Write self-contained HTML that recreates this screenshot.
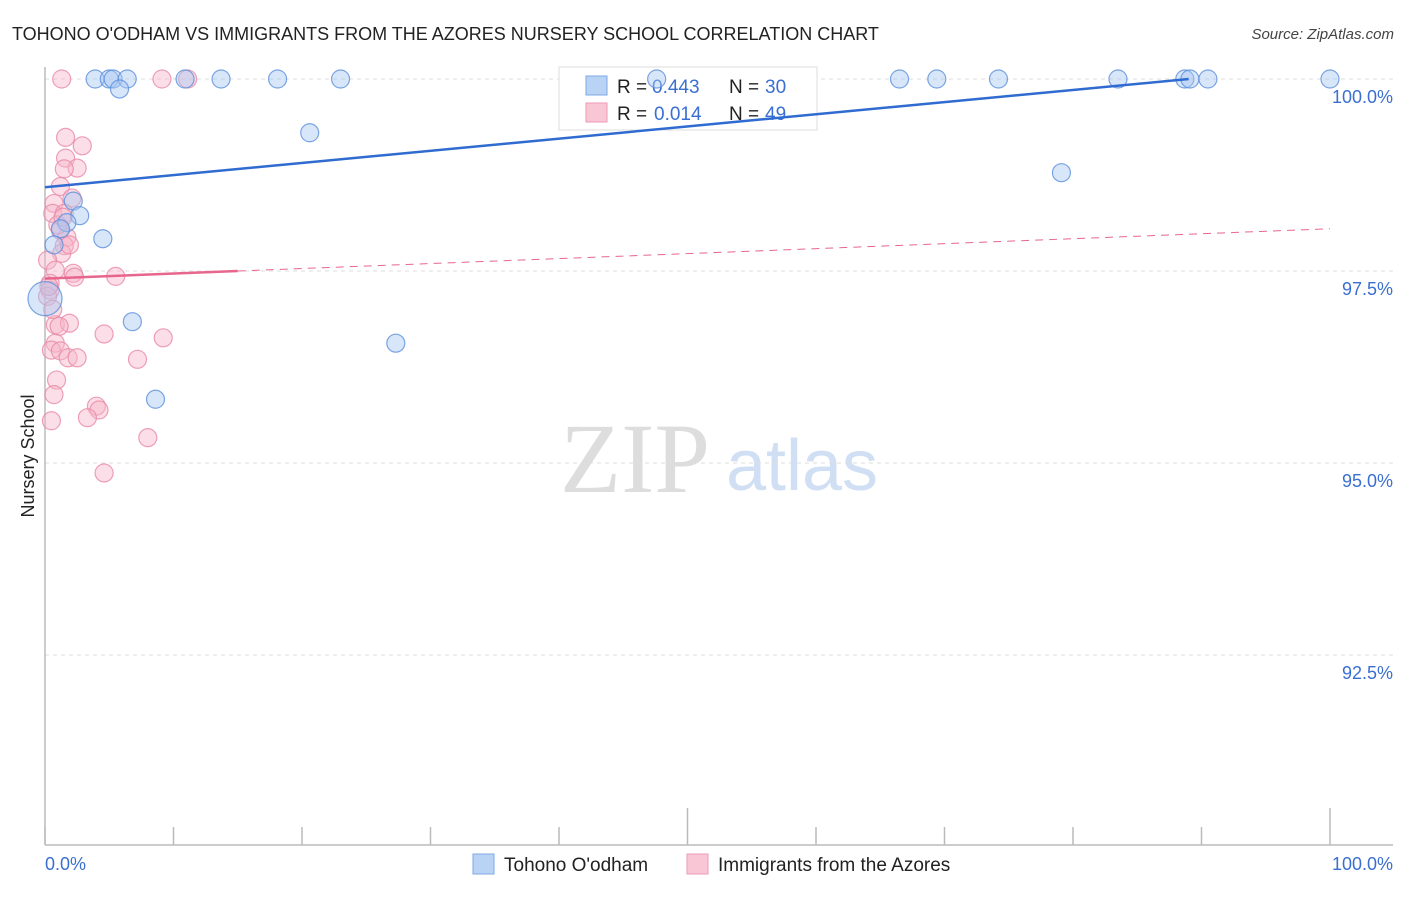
<!DOCTYPE html>
<html><head><meta charset="utf-8"><style>
body{margin:0;background:#fff;font-family:"Liberation Sans",sans-serif;}
svg text{font-family:"Liberation Sans",sans-serif;}
svg text.serif{font-family:"Liberation Serif",serif;}
</style></head><body>
<svg id="chart" width="1406" height="892" viewBox="0 0 1406 892" xmlns="http://www.w3.org/2000/svg">
<text x="12" y="40" font-size="18" fill="#222">TOHONO O'ODHAM VS IMMIGRANTS FROM THE AZORES NURSERY SCHOOL CORRELATION CHART</text>
<text x="1394" y="39" font-size="15" fill="#444" font-style="italic" text-anchor="end">Source: ZipAtlas.com</text>
<text x="34" y="456" font-size="18" fill="#222" text-anchor="middle" transform="rotate(-90 34 456)">Nursery School</text>
<g>
<text class="serif" x="635" y="492" font-size="100" fill="#ddd" text-anchor="middle">ZIP</text>
<text x="802" y="490" font-size="72" fill="#d0dff3" text-anchor="middle">atlas</text>
</g>
<g id="grid"></g>
<g id="axes"></g>
<g>
<rect x="559" y="67" width="258" height="63" fill="#fff" stroke="#ddd"/>
<rect x="586" y="76" width="21" height="19" fill="#b9d3f5" stroke="#7fa9e6"/>
<rect x="586" y="103" width="21" height="19" fill="#f9c6d5" stroke="#ee9ab4"/>
<text x="617" y="93" font-size="19" fill="#222">R =</text>
<text x="652" y="93" font-size="19" fill="#3a6fd1">0.443</text>
<text x="729" y="93" font-size="19" fill="#222">N =</text>
<text x="765" y="93" font-size="19" fill="#3a6fd1">30</text>
<text x="617" y="120" font-size="19" fill="#222">R =</text>
<text x="654" y="120" font-size="19" fill="#3a6fd1">0.014</text>
<text x="729" y="120" font-size="19" fill="#222">N =</text>
<text x="765" y="120" font-size="19" fill="#3a6fd1">49</text>
</g>
<g id="marks"></g>
<g>
<rect x="473" y="854" width="21" height="20" fill="#b9d3f5" stroke="#7fa9e6"/>
<text x="504" y="871" font-size="19" fill="#222">Tohono O'odham</text>
<rect x="687" y="854" width="21" height="20" fill="#f9c6d5" stroke="#ee9ab4"/>
<text x="718" y="871" font-size="19" fill="#222">Immigrants from the Azores</text>
</g>
</svg>
<script>
const yTicks=[100,97.5,95,92.5];
const yTickLabels=["100.0%","97.5%","95.0%","92.5%"];
const blueX=[3.9,5.0,5.3,6.4,5.8,10.9,13.7,18.1,23.0,20.6,2.2,2.7,1.7,1.2,0.7,4.5,0,6.8,27.3,8.6,47.6,66.5,69.4,74.2,83.5,88.7,89.1,90.5,100,79.1];
const blueY=[100,100,100,100,99.87,100,100,100,100,99.30,98.41,98.22,98.13,98.05,97.84,97.92,97.14,96.84,96.56,95.83,100,100,100,100,100,100,100,100,100,98.78];
const pinkX=[1.3,9.1,11.1,1.6,2.9,1.6,2.5,1.5,1.2,2.1,0.7,0.6,1.5,1.2,1.7,1.5,1.3,0.2,0.8,2.2,2.3,5.5,0.4,0.4,0.2,0.8,1.9,1.1,4.6,9.2,0.8,0.5,1.2,1.8,2.5,7.2,0.9,0.7,4.0,4.2,3.3,0.5,8.0,4.6,1.0,1.9,0.3,1.4,0.6];
const pinkY=[100,100,100,99.24,99.13,98.97,98.84,98.83,98.6,98.45,98.38,98.25,98.25,98.03,97.94,97.83,97.73,97.64,97.51,97.47,97.42,97.43,97.34,97.25,97.17,96.8,96.82,96.78,96.68,96.63,96.56,96.47,96.46,96.37,96.37,96.35,96.08,95.89,95.74,95.69,95.59,95.55,95.33,94.87,98.1,97.84,97.3,98.2,97.0];
const blueTrend=[[0,98.59],[89,100]];
const pinkTrend=[[0,97.40],[15,97.50],[100,98.05]];
const xs=v=>45+v*12.85, ys=v=>79+(100-v)*76.8;
const NS="http://www.w3.org/2000/svg";
function mk(p,t,a){const e=document.createElementNS(NS,t);for(const k in a)e.setAttribute(k,a[k]);p.appendChild(e);return e;}
const grid=document.getElementById('grid'),axes=document.getElementById('axes'),marks=document.getElementById('marks');
yTicks.forEach((t,i)=>{
 const l=mk(grid,'line',{x1:45,x2:1393,y1:ys(t),y2:ys(t),stroke:'#ddd','stroke-dasharray':'4 4'});
 
 
 const tx=mk(axes,'text',{x:1393,y:ys(t)+24,'font-size':18,fill:'#3a6fd1','text-anchor':'end'});
 tx.textContent=yTickLabels[i];
 
 
});
let a=mk(axes,'line',{x1:45,x2:1393,y1:845,y2:845,stroke:'#bbb','stroke-width':1.5});

a=mk(axes,'line',{x1:45,x2:45,y1:67,y2:845,stroke:'#bbb','stroke-width':1.5});

for(let k=0;k<=10;k++){const x=xs(k*10);const tk=mk(axes,'line',{x1:x,x2:x,y1:(k==5||k==10)?808:827,y2:845,stroke:'#bbb','stroke-width':1.5});
 }
let t=mk(axes,'text',{x:45,y:870,'font-size':18,fill:'#3a6fd1'});t.textContent='0.0%';

t=mk(axes,'text',{x:1393,y:870,'font-size':18,fill:'#3a6fd1','text-anchor':'end'});t.textContent='100.0%';

function dots(X,Y,fill,stroke,name){X.forEach((x,i)=>{const r=(name==='blue-point'&&x===0&&Y[i]<97.2)?17:9;
 const c=mk(marks,'circle',{cx:xs(x),cy:ys(Y[i]),r:r,fill:fill,'fill-opacity':0.45,stroke:stroke,'stroke-width':1.2,'stroke-opacity':0.8});
 });}
dots(pinkX,pinkY,'#f7b6c9','#e98aa8','pink-point');
dots(blueX,blueY,'#a9c8f2','#5b8fdc','blue-point');
let tl=mk(marks,'line',{x1:xs(blueTrend[0][0]),y1:ys(blueTrend[0][1]),x2:xs(blueTrend[1][0]),y2:ys(blueTrend[1][1]),stroke:'#2f6bd0','stroke-width':2.5});

tl=mk(marks,'line',{x1:xs(pinkTrend[0][0]),y1:ys(pinkTrend[0][1]),x2:xs(pinkTrend[1][0]),y2:ys(pinkTrend[1][1]),stroke:'#e7668d','stroke-width':2.5});

tl=mk(marks,'line',{x1:xs(pinkTrend[1][0]),y1:ys(pinkTrend[1][1]),x2:xs(pinkTrend[2][0]),y2:ys(pinkTrend[2][1]),stroke:'#e7668d','stroke-width':1,'stroke-dasharray':'8 6'});

</script>
</body></html>
